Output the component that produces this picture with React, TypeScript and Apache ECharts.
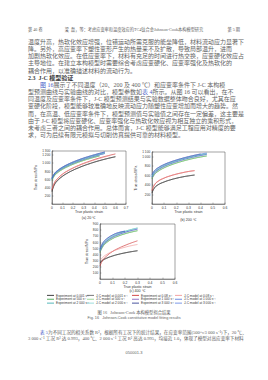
import React, { useEffect, useRef } from "react";
import * as echarts from "echarts";

// ---------- data ----------
const rateLabels = ["0.001 s⁻¹", "0.08 s⁻¹", "500 s⁻¹", "1 000 s⁻¹", "2 000 s⁻¹", "3 000 s⁻¹"];
const expColors = ["#111111", "#c81e1e", "#2f9a3a", "#7a4fb8", "#2aa5a8", "#1c2a86"];
const jcColors = ["#555555", "#ef8a8a", "#86cc7e", "#4a6fd8", "#82d4d2", "#5a7ee0"];

// (a) 20 °C
const strainA = [0, 0.02, 0.05, 0.1, 0.15, 0.2, 0.25, 0.3, 0.35, 0.4, 0.45, 0.5, 0.55, 0.6];
const expA = [
  [300, 455, 565, 680, 762, 830, 888, 940, 985, 1028, 1066, 1100, 1132, 1160],
  [340, 500, 615, 735, 818, 886, 945, 998, 1045, 1090, 1130, 1166, 1198, 1228],
  [575, 680, 760, 850, 918, 975, 1025, 1070, 1110, 1147, 1180],
  [600, 705, 785, 875, 943, 1000, 1050, 1095, 1136, 1173, 1208, 1240],
  [615, 718, 798, 888, 956, 1014, 1064, 1110, 1150, 1188, 1222, 1254],
  [630, 735, 815, 905, 974, 1032, 1083, 1129, 1170, 1208, 1243, 1276],
];
const jcA = [
  [330, 470, 572, 684, 764, 830, 886, 937, 982, 1024, 1062, 1097, 1129, 1158],
  [360, 505, 612, 728, 810, 877, 935, 987, 1034, 1078, 1118, 1155, 1190],
  [590, 688, 765, 852, 918, 974, 1023, 1067, 1107, 1144, 1178],
  [615, 712, 790, 877, 943, 999, 1048, 1093, 1133, 1170, 1205, 1238],
  [628, 724, 802, 889, 956, 1013, 1062, 1107, 1147, 1185, 1219, 1252],
  [645, 740, 818, 906, 974, 1031, 1081, 1126, 1167, 1205, 1240, 1274],
];

// (b) 200 °C
const strainB = [0, 0.02, 0.05, 0.1, 0.15, 0.2, 0.25, 0.3, 0.35, 0.4, 0.45];
const expB = [
  [230, 335, 405, 465, 510, 545, 573, 595, 612],
  [280, 400, 480, 548, 595, 632, 662, 688, 705],
  [530, 620, 690, 765, 820, 866, 905, 940, 970, 995, 1015],
  [560, 650, 720, 795, 850, 895, 935, 970, 1000, 1027, 1050],
  [585, 670, 738, 812, 866, 911, 950, 984, 1015, 1042, 1066],
  [620, 700, 765, 835, 887, 930, 968, 1002, 1032, 1058],
];
const jcB = [
  [250, 345, 410, 468, 510, 544, 572, 595, 614],
  [300, 410, 485, 550, 596, 632, 662, 687, 708],
  [545, 628, 695, 767, 821, 866, 904, 938, 968, 994, 1017],
  [572, 656, 724, 797, 850, 895, 934, 968, 999, 1026, 1050],
  [595, 676, 742, 813, 866, 910, 949, 983, 1013, 1041, 1065],
  [630, 706, 768, 836, 887, 930, 967, 1000, 1030, 1057, 1080],
];

// (c) 400 °C
const strainC = [0, 0.02, 0.05, 0.1, 0.15, 0.2, 0.25, 0.3];
const expC = [
  [260, 300, 335, 375, 405, 428, 447, 462],
  [210, 300, 370, 450, 505, 550, 590, 625],
  [430, 520, 590, 660, 705, 740, 768, 790],
  [450, 540, 610, 682, 728, 764, 793, 817],
  [465, 555, 625, 697, 744, 780, 810, 835],
  [485, 580, 650, 718, 760, 782],
];
const jcC = [
  [280, 312, 342, 378, 405, 427, 446, 463],
  [300, 350, 398, 452, 490, 520, 545, 565],
  [445, 528, 594, 661, 705, 740, 767, 790],
  [462, 548, 614, 683, 728, 764, 792, 816],
  [478, 562, 629, 698, 744, 780, 809, 834],
  [495, 585, 652, 720, 761, 784],
];

const panelTitles = ["(a) 20 ℃", "(b) 200 ℃", "(c) 400 ℃"];
const xMaxes = [0.7, 0.6, 0.6];
const yMaxes = [1300, 1100, 900];
const yIntervals = [200, 200, 100];

const headerLeft = "第 46 卷";
const headerMid = "梁  磊，等：考虑应变率和温度效应的TC4钛合金Johnson-Cook本构模型研究";
const headerRight = "第 5 期";
const topLines = [
  "温度升高，热软化效应增强，位错运动所需克服的能垒降低，材料流动应力显著下",
  "降。另外，高应变率下塑性变形产生的热量来不及扩散，导致局部温升，进而",
  "加剧热软化效应。在低应变率下，材料有充足的时间进行热交换，应变硬化效应占",
  "主导地位。在建立本构模型时需要综合考虑应变硬化、应变率强化及热软化的",
  "耦合作用，以准确描述材料的流动行为。",
];
const heading = "2.3  J-C 模型验证";
const midLines = [
  "{b|图 16}展示了不同温度（20、200 及 400 ℃）和应变率条件下 J-C 本构模",
  "型预测曲线与实验曲线的对比，模型参数如{b|表 4}所示。从图 16 可以看出，在不",
  "同温度及应变率条件下，J-C 模型预测结果与实验数据整体吻合良好，尤其在应",
  "变硬化阶段，模型能够较准确地反映流动应力随塑性应变增加而增大的趋势。然",
  "而，在高温、低应变率条件下，模型预测值与实验值之间存在一定偏差，这主要是",
  "由于 J-C 模型将应变硬化、应变率强化与热软化效应视为相互独立的乘积形式，",
  "未考虑三者之间的耦合作用。总体而言，J-C 模型能够满足工程应用对精度的要",
  "求，可为后续有限元模拟与切削仿真提供可靠的材料模型。",
];
const captionCn = "图 16   Johnson-Cook 本构模型拟合结果";
const captionEn = "Fig. 16   Johnson-Cook constitutive model fitting results";
const bottomLines = [
  "{b|表 5}为不同工况的相关系数 R²，根据所有工况下的统计结果，在应变率范围(500～3 000 s⁻¹)下，20 ℃、",
  "3 000 s⁻¹ 工况 R² 达 0.993，400 ℃、2 000 s⁻¹ 工况 R² 高达 0.995，均接近 1.0，体现了模型对高应变率下材料",
];
const pageNumber = "050001-3";

// ---------- component ----------
const CJK = '"Liberation Serif", "Noto Sans CJK SC", serif';
const SANS = '"Liberation Sans", Arial, sans-serif';

function fmtY(v: number) {
  if (v >= 1000) return Math.floor(v / 1000) + " " + String(v % 1000).padStart(3, "0");
  return String(v);
}

export default function App() {
  const ref = useRef<HTMLDivElement>(null);
  useEffect(() => {
    if (!ref.current) return;
    const chart = echarts.init(ref.current, undefined, { renderer: "svg" });

    const grids = [
      { left: 52, top: 151, width: 74, height: 53 },
      { left: 152, top: 152, width: 73, height: 52 },
      { left: 100, top: 224, width: 75, height: 55 },
    ].map((g) => ({ ...g, show: true, borderColor: "#444", borderWidth: 0.5, backgroundColor: "transparent" }));

    const xAxes = grids.map((_, i) => ({
      type: "value",
      gridIndex: i,
      min: 0,
      max: xMaxes[i],
      interval: 0.1,
      name: "True plastic strain",
      nameLocation: "middle",
      nameGap: 5.5,
      nameTextStyle: { fontSize: 3.6, lineHeight: 4, fontFamily: SANS, color: "#333" },
      axisLine: { show: true, lineStyle: { color: "#444", width: 0.5 } },
      axisTick: { show: true, inside: true, length: 1.4, lineStyle: { color: "#444", width: 0.4 } },
      axisLabel: {
        fontSize: 3.3,
        lineHeight: 3.6,
        margin: 1.8,
        fontFamily: SANS,
        color: "#333",
        formatter: (v: number) => (v === 0 ? "0" : v.toFixed(1)),
      },
      splitLine: { show: false },
    }));

    const yAxes = grids.map((_, i) => ({
      type: "value",
      gridIndex: i,
      min: 0,
      max: yMaxes[i],
      interval: yIntervals[i],
      name: "True stress/MPa",
      nameLocation: "middle",
      nameRotate: 90,
      nameGap: 9,
      nameTextStyle: { fontSize: 3.4, lineHeight: 3.8, fontFamily: SANS, color: "#333" },
      axisLine: { show: true, lineStyle: { color: "#444", width: 0.5 } },
      axisTick: { show: true, inside: true, length: 1.4, lineStyle: { color: "#444", width: 0.4 } },
      axisLabel: { fontSize: 3.2, lineHeight: 3.5, margin: 1.8, fontFamily: SANS, color: "#333", showMinLabel: false, formatter: fmtY },
      splitLine: { show: false },
    }));

    const expNames = rateLabels.map((r) => "Experiment at " + r);
    const jcNames = rateLabels.map((r) => "J-C model at " + r);

    const panels = [
      { strain: strainA, exp: expA, jc: jcA },
      { strain: strainB, exp: expB, jc: jcB },
      { strain: strainC, exp: expC, jc: jcC },
    ];
    const series: any[] = [];
    panels.forEach((p, gi) => {
      for (let k = 0; k < rateLabels.length; k++) {
        series.push({
          type: "line",
          name: expNames[k],
          xAxisIndex: gi,
          yAxisIndex: gi,
          showSymbol: false,
          smooth: true,
          data: p.exp[k].map((v, j) => [p.strain[j], v]),
          lineStyle: { color: expColors[k], width: 0.6 },
          itemStyle: { color: expColors[k] },
        });
        series.push({
          type: "line",
          name: jcNames[k],
          xAxisIndex: gi,
          yAxisIndex: gi,
          showSymbol: false,
          smooth: true,
          data: p.jc[k].map((v, j) => [p.strain[j], v]),
          lineStyle: { color: jcColors[k], width: 0.6 },
          itemStyle: { color: jcColors[k] },
        });
      }
    });

    const legendBase = {
      orient: "vertical",
      top: 293.5,
      itemWidth: 7,
      itemHeight: 0.8,
      itemGap: 0.3,
      icon: "rect",
      padding: 0,
      selectedMode: false,
      textStyle: { fontSize: 3.2, lineHeight: 3.6, fontFamily: SANS, color: "#333", padding: [0, 0, 0, -3] },
    };
    const legends = [
      { ...legendBase, left: 47, data: [expNames[0], expNames[2], expNames[4]] },
      { ...legendBase, left: 87, data: [jcNames[0], jcNames[2], jcNames[4]] },
      { ...legendBase, left: 132, data: [expNames[1], expNames[3], expNames[5]] },
      { ...legendBase, left: 175, data: [jcNames[1], jcNames[3], jcNames[5]] },
    ];

    const txt = (x: number, y: number, text: string, fontSize: number, extra: any = {}) => ({
      type: "text",
      x,
      y,
      silent: true,
      style: {
        text,
        fontSize,
        lineHeight: fontSize * 1.05,
        fontFamily: CJK,
        fill: "#626262",
        verticalAlign: "middle",
        align: "left",
        rich: { b: { fill: "#4a62c8", fontSize, lineHeight: fontSize * 1.05, fontFamily: CJK } },
        ...extra,
      },
    });

    const graphics: any[] = [];
    graphics.push(txt(28, 29, headerLeft, 4.2));
    graphics.push(txt(134, 29, headerMid, 4.2, { align: "center" }));
    graphics.push(txt(240, 29, headerRight, 4.2, { align: "right" }));
    const lh = 7.15;
    topLines.forEach((l, i) => graphics.push(txt(28, 42 + i * lh, l, 6.0)));
    graphics.push(txt(28, 42 + 5 * lh, heading, 6.0, { fontWeight: "bold", fill: "#3a3a3a" }));
    midLines.forEach((l, i) => graphics.push(txt(i === 0 ? 40 : 28, 42 + (6 + i) * lh, l, 6.0)));
    // subplot captions
    graphics.push(txt(89, 218, panelTitles[0], 3.6, { align: "center", fontFamily: SANS, fill: "#333" }));
    graphics.push(txt(188.5, 219.5, panelTitles[1], 3.6, { align: "center", fontFamily: SANS, fill: "#333" }));
    graphics.push(txt(137.5, 290.5, panelTitles[2], 3.6, { align: "center", fontFamily: SANS, fill: "#333" }));
    graphics.push(txt(134, 312.5, captionCn, 4.3, { align: "center" }));
    graphics.push(txt(134, 318, captionEn, 3.8, { align: "center", fontFamily: SANS }));
    graphics.push(txt(40, 332, bottomLines[0], 4.6));
    graphics.push(txt(28, 338.5, bottomLines[1], 4.6));
    graphics.push(txt(134, 352, pageNumber, 4, { align: "center", fontFamily: SANS }));

    chart.setOption({
      animation: false,
      backgroundColor: "#ffffff",
      grid: grids,
      xAxis: xAxes,
      yAxis: yAxes,
      legend: legends,
      series,
      graphic: graphics,
    });
    return () => chart.dispose();
  }, []);
  return (
    <div
      ref={ref}
      style={{ position: "fixed", left: 0, top: 0, width: 268, height: 380, background: "#fff" }}
    />
  );
}
